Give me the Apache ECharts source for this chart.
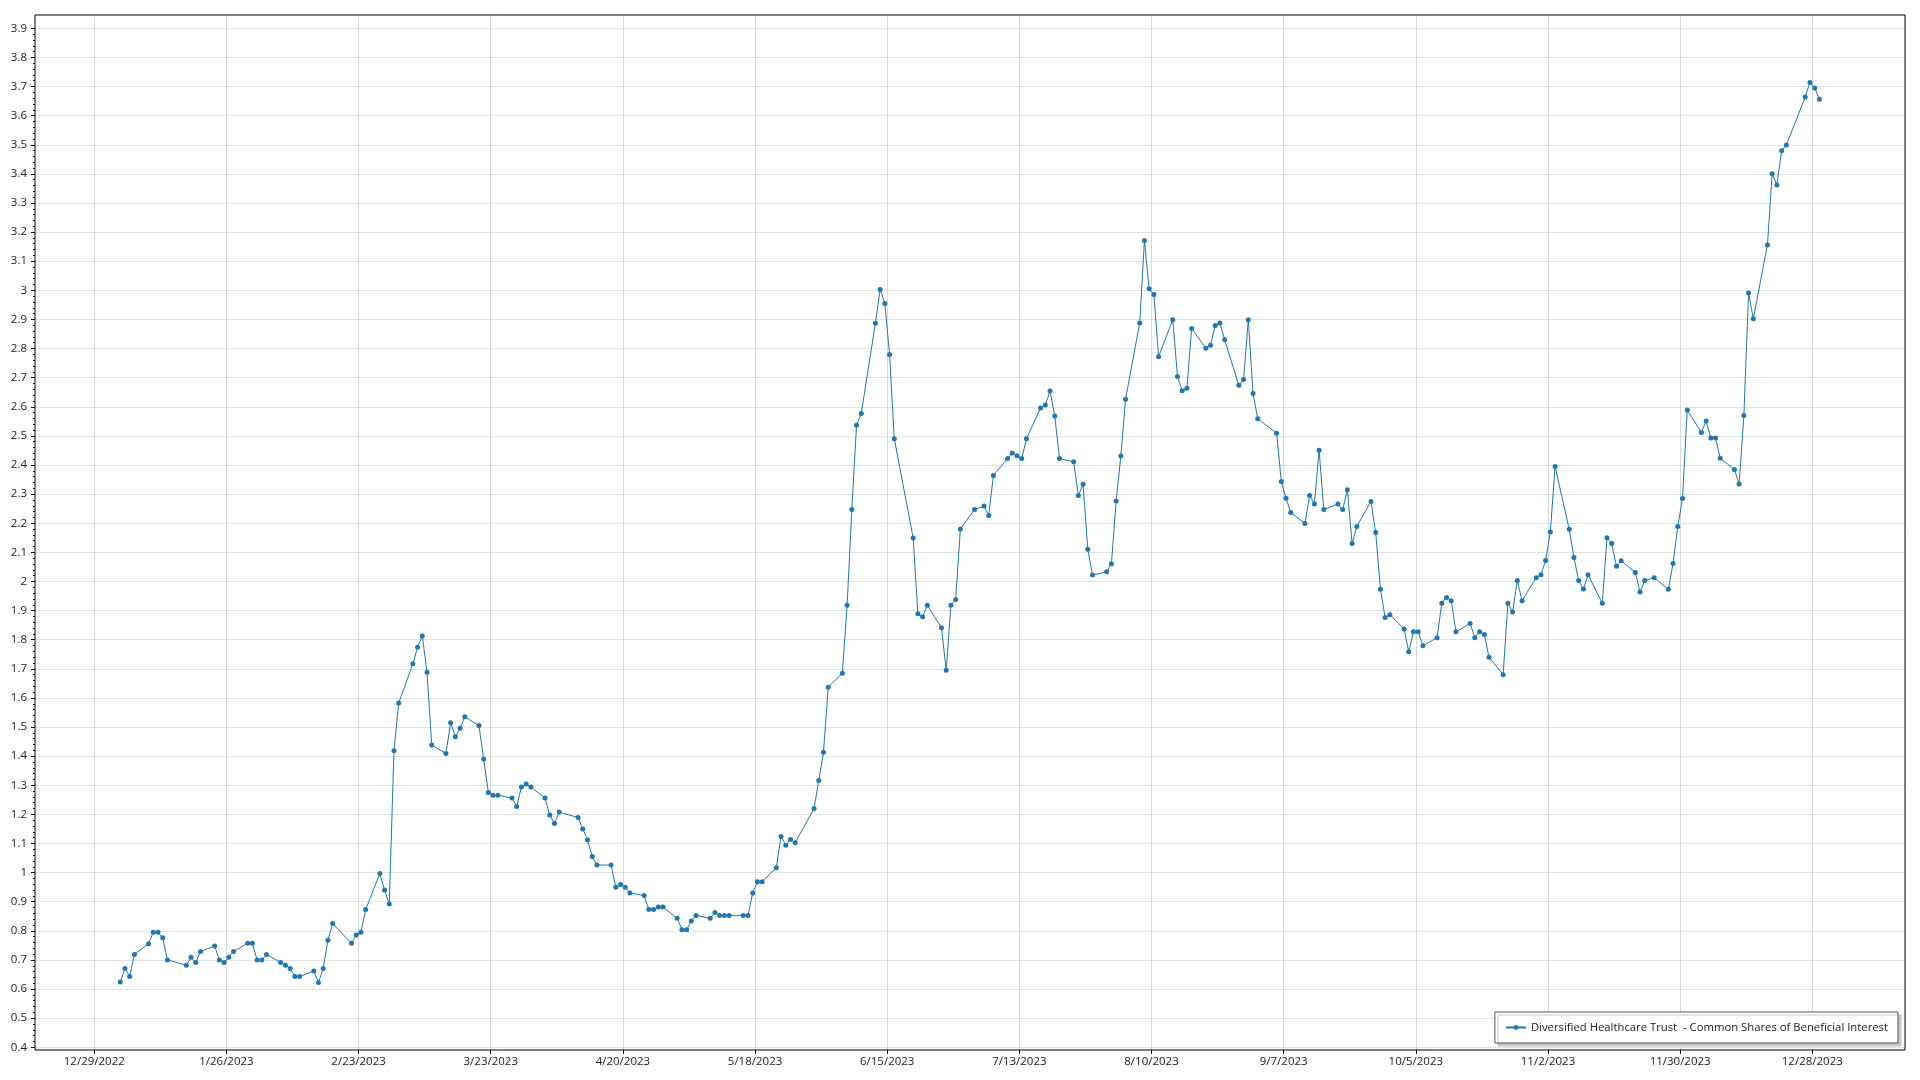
<!DOCTYPE html>
<html><head><meta charset="utf-8">
<script src="https://cdn.jsdelivr.net/npm/echarts@6/dist/echarts.min.js"></script>
<style>html,body{margin:0;padding:0;background:#fff}#c{width:1920px;height:1080px}</style>
</head><body><div id="c"></div>
<script>
const seriesName = 'Diversified Healthcare Trust  - Common Shares of Beneficial Interest';

const dates = [
'2023-01-03','2023-01-04','2023-01-05','2023-01-06','2023-01-09','2023-01-10','2023-01-11','2023-01-12','2023-01-13','2023-01-17','2023-01-18','2023-01-19','2023-01-20','2023-01-23','2023-01-24','2023-01-25','2023-01-26','2023-01-27','2023-01-30','2023-01-31',
'2023-02-01','2023-02-02','2023-02-03','2023-02-06','2023-02-07','2023-02-08','2023-02-09','2023-02-10','2023-02-13','2023-02-14','2023-02-15','2023-02-16','2023-02-17','2023-02-21','2023-02-22','2023-02-23','2023-02-24','2023-02-27','2023-02-28',
'2023-03-01','2023-03-02','2023-03-03','2023-03-06','2023-03-07','2023-03-08','2023-03-09','2023-03-10','2023-03-13','2023-03-14','2023-03-15','2023-03-16','2023-03-17','2023-03-20','2023-03-21','2023-03-22','2023-03-23','2023-03-24','2023-03-27','2023-03-28','2023-03-29','2023-03-30','2023-03-31',
'2023-04-03','2023-04-04','2023-04-05','2023-04-06','2023-04-10','2023-04-11','2023-04-12','2023-04-13','2023-04-14','2023-04-17','2023-04-18','2023-04-19','2023-04-20','2023-04-21','2023-04-24','2023-04-25','2023-04-26','2023-04-27','2023-04-28',
'2023-05-01','2023-05-02','2023-05-03','2023-05-04','2023-05-05','2023-05-08','2023-05-09','2023-05-10','2023-05-11','2023-05-12','2023-05-15','2023-05-16','2023-05-17','2023-05-18','2023-05-19','2023-05-22','2023-05-23','2023-05-24','2023-05-25','2023-05-26','2023-05-30','2023-05-31',
'2023-06-01','2023-06-02','2023-06-05','2023-06-06','2023-06-07','2023-06-08','2023-06-09','2023-06-12','2023-06-13','2023-06-14','2023-06-15','2023-06-16','2023-06-20','2023-06-21','2023-06-22','2023-06-23','2023-06-26','2023-06-27','2023-06-28','2023-06-29','2023-06-30',
'2023-07-03','2023-07-05','2023-07-06','2023-07-07','2023-07-10','2023-07-11','2023-07-12','2023-07-13','2023-07-14','2023-07-17','2023-07-18','2023-07-19','2023-07-20','2023-07-21','2023-07-24','2023-07-25','2023-07-26','2023-07-27','2023-07-28','2023-07-31',
'2023-08-01','2023-08-02','2023-08-03','2023-08-04','2023-08-07','2023-08-08','2023-08-09','2023-08-10','2023-08-11','2023-08-14','2023-08-15','2023-08-16','2023-08-17','2023-08-18','2023-08-21','2023-08-22','2023-08-23','2023-08-24','2023-08-25','2023-08-28','2023-08-29','2023-08-30','2023-08-31',
'2023-09-01','2023-09-05','2023-09-06','2023-09-07','2023-09-08','2023-09-11','2023-09-12','2023-09-13','2023-09-14','2023-09-15','2023-09-18','2023-09-19','2023-09-20','2023-09-21','2023-09-22','2023-09-25','2023-09-26','2023-09-27','2023-09-28','2023-09-29',
'2023-10-02','2023-10-03','2023-10-04','2023-10-05','2023-10-06','2023-10-09','2023-10-10','2023-10-11','2023-10-12','2023-10-13','2023-10-16','2023-10-17','2023-10-18','2023-10-19','2023-10-20','2023-10-23','2023-10-24','2023-10-25','2023-10-26','2023-10-27','2023-10-30','2023-10-31',
'2023-11-01','2023-11-02','2023-11-03','2023-11-06','2023-11-07','2023-11-08','2023-11-09','2023-11-10','2023-11-13','2023-11-14','2023-11-15','2023-11-16','2023-11-17','2023-11-20','2023-11-21','2023-11-22','2023-11-24','2023-11-27','2023-11-28','2023-11-29','2023-11-30',
'2023-12-01','2023-12-04','2023-12-05','2023-12-06','2023-12-07','2023-12-08','2023-12-11','2023-12-12','2023-12-13','2023-12-14','2023-12-15','2023-12-18','2023-12-19','2023-12-20','2023-12-21','2023-12-22','2023-12-26','2023-12-27','2023-12-28','2023-12-29'
];

const prices = [
0.624,0.671,0.643,0.719,0.756,0.795,0.795,0.776,0.700,0.682,0.709,0.691,0.729,0.748,0.700,0.691,0.709,0.729,0.757,0.757,
0.700,0.700,0.719,0.691,0.682,0.671,0.643,0.643,0.662,0.623,0.671,0.768,0.825,0.757,0.786,0.795,0.873,0.997,0.940,
0.892,1.419,1.583,1.717,1.774,1.813,1.688,1.438,1.409,1.515,1.467,1.496,1.535,1.505,1.390,1.275,1.266,1.266,1.256,1.227,1.294,1.304,1.294,
1.256,1.198,1.169,1.208,1.189,1.150,1.112,1.055,1.026,1.026,0.950,0.959,0.950,0.930,0.921,0.873,0.873,0.882,0.882,
0.843,0.804,0.804,0.834,0.853,0.843,0.863,0.853,0.853,0.853,0.853,0.853,0.930,0.969,0.969,1.017,1.124,1.094,1.114,1.103,1.220,1.316,
1.413,1.637,1.685,1.918,2.247,2.537,2.577,2.887,3.003,2.955,2.780,2.490,2.149,1.889,1.879,1.918,1.841,1.695,1.918,1.938,2.180,
2.247,2.259,2.227,2.364,2.422,2.441,2.432,2.422,2.490,2.596,2.606,2.654,2.568,2.422,2.411,2.295,2.334,2.111,2.022,2.033,
2.061,2.276,2.431,2.626,2.888,3.171,3.005,2.986,2.772,2.899,2.704,2.655,2.664,2.869,2.801,2.811,2.879,2.888,2.830,2.674,2.694,2.899,2.646,
2.559,2.509,2.343,2.286,2.237,2.199,2.295,2.266,2.451,2.247,2.266,2.247,2.315,2.130,2.189,2.275,2.168,1.973,1.876,1.886,
1.837,1.759,1.827,1.827,1.779,1.807,1.925,1.945,1.934,1.827,1.856,1.807,1.827,1.818,1.740,1.680,1.925,1.895,2.003,1.934,2.013,2.023,
2.072,2.170,2.395,2.179,2.082,2.003,1.974,2.023,1.925,2.150,2.130,2.052,2.071,2.031,1.964,2.003,2.013,1.973,2.062,2.189,2.285,
2.589,2.512,2.551,2.493,2.493,2.423,2.385,2.335,2.570,2.991,2.902,3.156,3.400,3.362,3.479,3.499,3.664,3.714,3.695,3.656
];

const xTickLabels = ['12/29/2022','1/26/2023','2/23/2023','3/23/2023','4/20/2023','5/18/2023','6/15/2023','7/13/2023','8/10/2023','9/7/2023','10/5/2023','11/2/2023','11/30/2023','12/28/2023'];
const yMin = 0.4, yMax = 3.9, yStep = 0.1;

const DAY = 86400000;
const toTime = s => { const [m, d, y] = s.split('/').map(Number); return Date.UTC(y, m - 1, d); };
const xTicks = xTickLabels.map(toTime);
const T0 = xTicks[0];
const xMin = T0 - 12.56 * DAY, xMax = T0 + 383.64 * DAY;
const points = dates.map((d, i) => [Date.parse(d + 'T12:00:00Z'), prices[i]]);

const FONT = 'Open Sans';
const chart = echarts.init(document.getElementById('c'), null, {renderer: 'canvas'});
chart.setOption({
  animation: false,
  backgroundColor: '#fff',
  textStyle: {fontFamily: FONT},
  grid: [
    {left: 35, right: 15, top: 28.3, bottom: 32.7, show: false},
    {left: 35, right: 15, top: 15, bottom: 30, show: true, borderColor: '#000', borderWidth: 1, backgroundColor: 'transparent', z: 3}
  ],
  xAxis: [
    {type: 'value', gridIndex: 0, min: xMin, max: xMax, show: false},
    {type: 'value', gridIndex: 1, min: xMin, max: xMax,
      axisLine: {show: false},
      axisTick: {show: true, length: 4, customValues: xTicks, lineStyle: {color: '#000'}},
      axisLabel: {customValues: xTicks, formatter: v => { const i = xTicks.indexOf(v); return i >= 0 ? xTickLabels[i] : ''; }, margin: 6, fontSize: 11.5, color: '#222', fontFamily: FONT},
      splitLine: {show: true, lineStyle: {color: '#d9d9d9', width: 1}}
    }
  ],
  yAxis: [
    {type: 'value', gridIndex: 0, min: yMin, max: yMax, interval: yStep,
      axisLine: {show: false},
      axisTick: {show: true, length: 4, lineStyle: {color: '#000'}},
      minorTick: {show: true, splitNumber: 5, length: 2, lineStyle: {color: '#000'}},
      axisLabel: {fontSize: 11.5, color: '#222', margin: 8, fontFamily: FONT, formatter: v => String(Math.round(v * 10) / 10)},
      splitLine: {show: true, lineStyle: {color: '#e3e3e3', width: 1}}
    },
    {type: 'value', gridIndex: 1, min: 0, max: 1, show: false}
  ],
  legend: {
    data: [seriesName], right: 22, bottom: 37, orient: 'horizontal',
    padding: [10, 10], itemWidth: 20, itemHeight: 6,
    backgroundColor: '#fff', borderColor: '#555', borderWidth: 1, borderRadius: 0,
    shadowColor: '#c8c8c8', shadowOffsetX: 3, shadowOffsetY: 3, shadowBlur: 0,
    textStyle: {fontSize: 11.3, color: '#222', fontFamily: FONT}
  },
  series: [{
    name: seriesName, type: 'line', xAxisIndex: 0, yAxisIndex: 0,
    data: points, symbol: 'circle', symbolSize: 5, showAllSymbol: true,
    lineStyle: {width: 1, color: '#1f77b4'}, itemStyle: {color: '#1f77b4'},
    emphasis: {disabled: true}
  }]
});
</script></body></html>
